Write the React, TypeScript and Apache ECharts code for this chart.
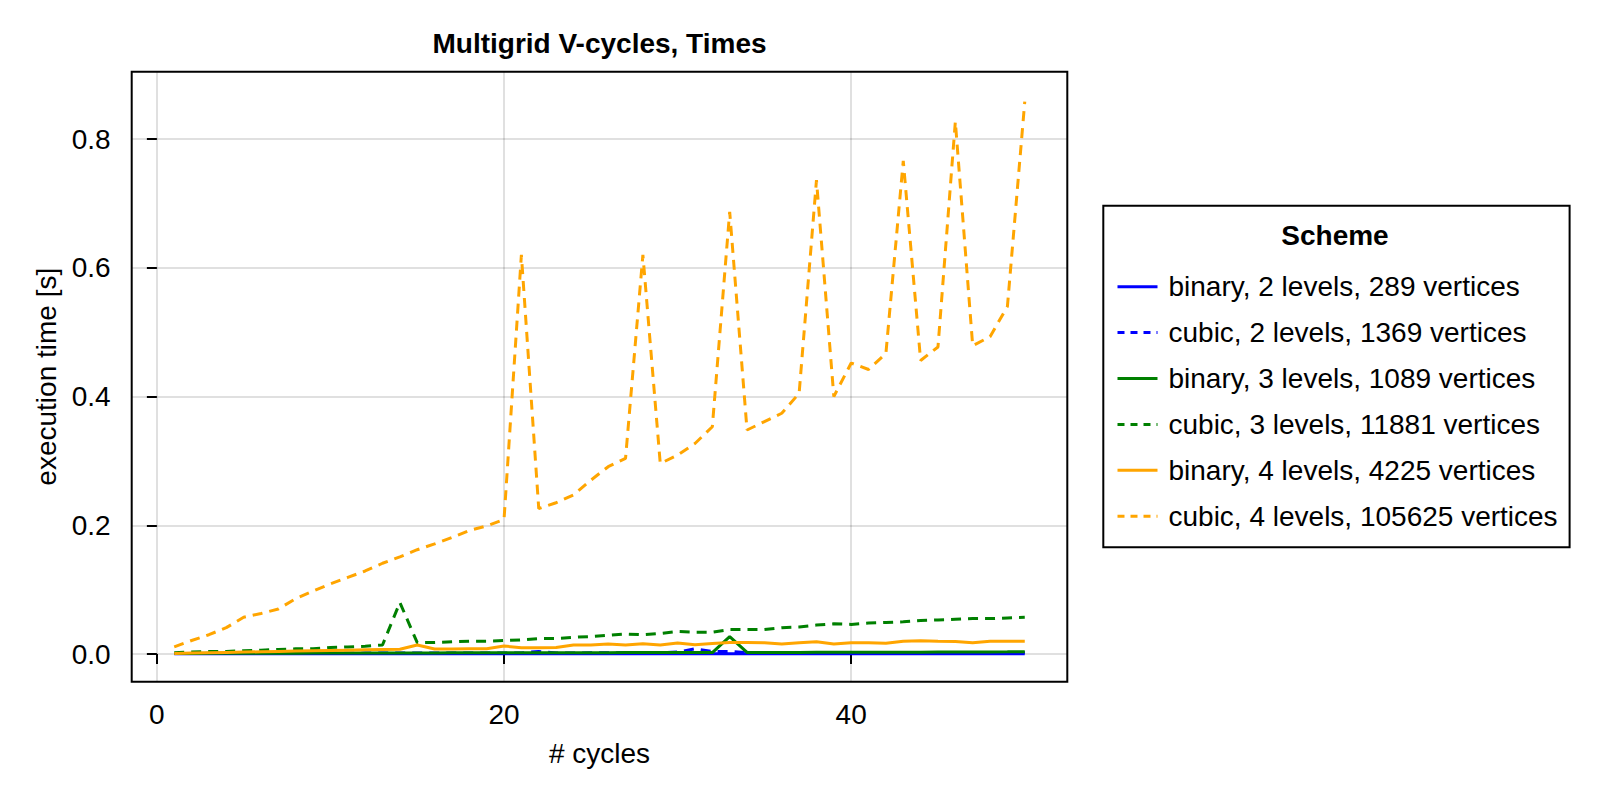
import React, { useEffect, useRef } from 'react';
import * as echarts from 'echarts';

const cycles = [
  1, 2, 3, 4, 5, 6, 7, 8, 9, 10, 11, 12, 13, 14, 15, 16, 17, 18, 19, 20, 21, 22, 23, 24, 25,
  26, 27, 28, 29, 30, 31, 32, 33, 34, 35, 36, 37, 38, 39, 40, 41, 42, 43, 44, 45, 46, 47, 48, 49, 50,
];

const binary2 = [
  0.0003, 0.0003, 0.0003, 0.0003, 0.0004, 0.0004, 0.0004, 0.0004, 0.0004, 0.0004,
  0.0004, 0.0004, 0.0004, 0.0004, 0.0005, 0.0004, 0.0004, 0.0004, 0.0005, 0.0005,
  0.0005, 0.0005, 0.0005, 0.0005, 0.0005, 0.0005, 0.0005, 0.0005, 0.0005, 0.0005,
  0.0006, 0.0005, 0.0005, 0.0005, 0.0005, 0.0005, 0.0005, 0.0005, 0.0005, 0.0005,
  0.0005, 0.0005, 0.0005, 0.0005, 0.0005, 0.0005, 0.0005, 0.0005, 0.0005, 0.0005,
];

const cubic2 = [
  0.0008, 0.0009, 0.0010, 0.0010, 0.0011, 0.0011, 0.0012, 0.0012, 0.0013, 0.0013,
  0.0013, 0.0014, 0.0014, 0.0014, 0.0015, 0.0015, 0.0015, 0.0016, 0.0016, 0.0016,
  0.0017, 0.0040, 0.0017, 0.0017, 0.0018, 0.0018, 0.0018, 0.0018, 0.0019, 0.0030,
  0.0080, 0.0040, 0.0040, 0.0020, 0.0020, 0.0020, 0.0020, 0.0021, 0.0021, 0.0021,
  0.0021, 0.0022, 0.0022, 0.0022, 0.0022, 0.0023, 0.0023, 0.0023, 0.0023, 0.0024,
];

const binary3 = [
  0.0010, 0.0010, 0.0011, 0.0011, 0.0012, 0.0012, 0.0013, 0.0013, 0.0014, 0.0014,
  0.0015, 0.0015, 0.0016, 0.0016, 0.0017, 0.0017, 0.0018, 0.0018, 0.0019, 0.0019,
  0.0020, 0.0020, 0.0020, 0.0021, 0.0021, 0.0021, 0.0022, 0.0022, 0.0022, 0.0023,
  0.0023, 0.0023, 0.0270, 0.0024, 0.0024, 0.0025, 0.0025, 0.0026, 0.0026, 0.0027,
  0.0027, 0.0028, 0.0028, 0.0029, 0.0030, 0.0031, 0.0032, 0.0033, 0.0034, 0.0036,
];

const cubic3 = [
  0.002, 0.003, 0.004, 0.004, 0.005, 0.006, 0.007, 0.008, 0.008, 0.010,
  0.011, 0.012, 0.014, 0.080, 0.0176, 0.018, 0.019, 0.020, 0.020, 0.021,
  0.022, 0.024, 0.024, 0.026, 0.027, 0.029, 0.031, 0.030, 0.032, 0.035,
  0.034, 0.034, 0.038, 0.038, 0.038, 0.041, 0.042, 0.045, 0.047, 0.046,
  0.048, 0.049, 0.050, 0.052, 0.053, 0.054, 0.055, 0.055, 0.056, 0.057,
];

const binary4 = [
  0.0010, 0.0015, 0.0020, 0.0025, 0.0030, 0.0035, 0.0040, 0.0045, 0.0050, 0.0055,
  0.0060, 0.0065, 0.0070, 0.0073, 0.0140, 0.0078, 0.0078, 0.0083, 0.0083, 0.0124,
  0.0098, 0.0098, 0.0100, 0.0140, 0.0140, 0.0155, 0.0140, 0.0160, 0.0140, 0.0170,
  0.0145, 0.0165, 0.0180, 0.0180, 0.0175, 0.0155, 0.0175, 0.0190, 0.0155, 0.0176,
  0.0176, 0.0166, 0.0197, 0.0207, 0.0197, 0.0195, 0.0176, 0.0197, 0.0200, 0.0200,
];

const cubic4 = [
  0.011, 0.021, 0.030, 0.041, 0.057, 0.063, 0.070, 0.086, 0.098, 0.109,
  0.119, 0.129, 0.141, 0.151, 0.162, 0.171, 0.181, 0.192, 0.199, 0.209,
  0.620, 0.226, 0.235, 0.247, 0.270, 0.291, 0.304, 0.620, 0.296, 0.309,
  0.327, 0.353, 0.687, 0.348, 0.361, 0.374, 0.405, 0.736, 0.400, 0.452,
  0.442, 0.467, 0.766, 0.456, 0.477, 0.827, 0.479, 0.493, 0.540, 0.858,
];

const schemes = [
  { name: 'binary, 2 levels, 289 vertices', values: binary2, color: '#0000ff', dashed: false },
  { name: 'cubic, 2 levels, 1369 vertices', values: cubic2, color: '#0000ff', dashed: true },
  { name: 'binary, 3 levels, 1089 vertices', values: binary3, color: '#008000', dashed: false },
  { name: 'cubic, 3 levels, 11881 vertices', values: cubic3, color: '#008000', dashed: true },
  { name: 'binary, 4 levels, 4225 vertices', values: binary4, color: '#ffa500', dashed: false },
  { name: 'cubic, 4 levels, 105625 vertices', values: cubic4, color: '#ffa500', dashed: true },
];

const xTicks = [0, 20, 40];
const yTicks = [0, 0.2, 0.4, 0.6, 0.8];

const FONT = 'Liberation Sans, Arial, Helvetica, sans-serif';
const FS = 28;

const App = () => {
  const chartRef = useRef<HTMLDivElement>(null);

  useEffect(() => {
    if (!chartRef.current) return;
    const chart = echarts.init(chartRef.current, undefined, { renderer: 'svg' });

    const axisCommon = {
      axisLine: { show: false },
      axisTick: { show: true, inside: false, length: 10, lineStyle: { color: '#000', width: 2 } },
      splitLine: { show: true, lineStyle: { color: 'rgba(0,0,0,0.12)', width: 2 } },
      nameTextStyle: { fontFamily: FONT, fontSize: FS, color: '#000' },
    };

    chart.setOption({
      animation: false,
      backgroundColor: '#fff',
      textStyle: { fontFamily: FONT },
      title: [
        {
          text: 'Multigrid V-cycles, Times',
          left: 599.5,
          top: 29,
          textAlign: 'center',
          padding: 0,
          textStyle: { fontFamily: FONT, fontSize: FS, fontWeight: 'bold', color: '#000' },
        },
        {
          text: 'Scheme',
          left: 1335,
          top: 221,
          textAlign: 'center',
          padding: 0,
          textStyle: { fontFamily: FONT, fontSize: FS, fontWeight: 'bold', color: '#000' },
        },
      ],
      grid: {
        left: 131.7,
        top: 71.7,
        width: 935.6,
        height: 610,
        show: true,
        borderColor: '#000',
        borderWidth: 2,
        backgroundColor: 'transparent',
        containLabel: false,
      },
      legend: {
        orient: 'vertical',
        left: 1103.3,
        top: 205.7,
        borderColor: '#000',
        borderWidth: 2,
        padding: [67, 12, 17, 12.7],
        itemWidth: 40,
        itemHeight: 14,
        itemGap: 17.9,
        textStyle: { fontFamily: FONT, fontSize: FS, color: '#000', padding: [0, 0, 0, 6] },
        data: schemes.map((s) => ({
          name: s.name,
          itemStyle: { opacity: 0 },
          lineStyle: { width: 3, type: s.dashed ? [7, 6] : 'solid' },
        })),
      },
      xAxis: {
        type: 'value',
        min: -1.45,
        max: 52.45,
        name: '# cycles',
        nameLocation: 'middle',
        nameGap: 58,
        ...axisCommon,
        axisTick: { ...axisCommon.axisTick, customValues: xTicks },
        axisLabel: {
          customValues: xTicks,
          margin: 19,
          fontFamily: FONT,
          fontSize: FS,
          color: '#000',
          formatter: (v: number) => String(v),
        },
      },
      yAxis: {
        type: 'value',
        min: -0.043,
        max: 0.9046,
        name: 'execution time [s]',
        nameLocation: 'middle',
        nameGap: 70.7,
        ...axisCommon,
        axisTick: { ...axisCommon.axisTick, customValues: yTicks },
        axisLabel: {
          customValues: yTicks,
          margin: 21,
          fontFamily: FONT,
          fontSize: FS,
          color: '#000',
          formatter: (v: number) => v.toFixed(1),
        },
      },
      series: schemes.map((s) => ({
        name: s.name,
        type: 'line',
        showSymbol: false,
        symbol: 'none',
        data: cycles.map((c, i) => [c, s.values[i]]),
        lineStyle: { color: s.color, width: 3, type: s.dashed ? [10, 7] : 'solid' },
        itemStyle: { color: s.color },
      })),
    });

    return () => {
      chart.dispose();
    };
  }, []);

  return (
    <div
      ref={chartRef}
      style={{ position: 'fixed', left: 0, top: 0, width: 1600, height: 800 }}
    />
  );
};

export default App;
